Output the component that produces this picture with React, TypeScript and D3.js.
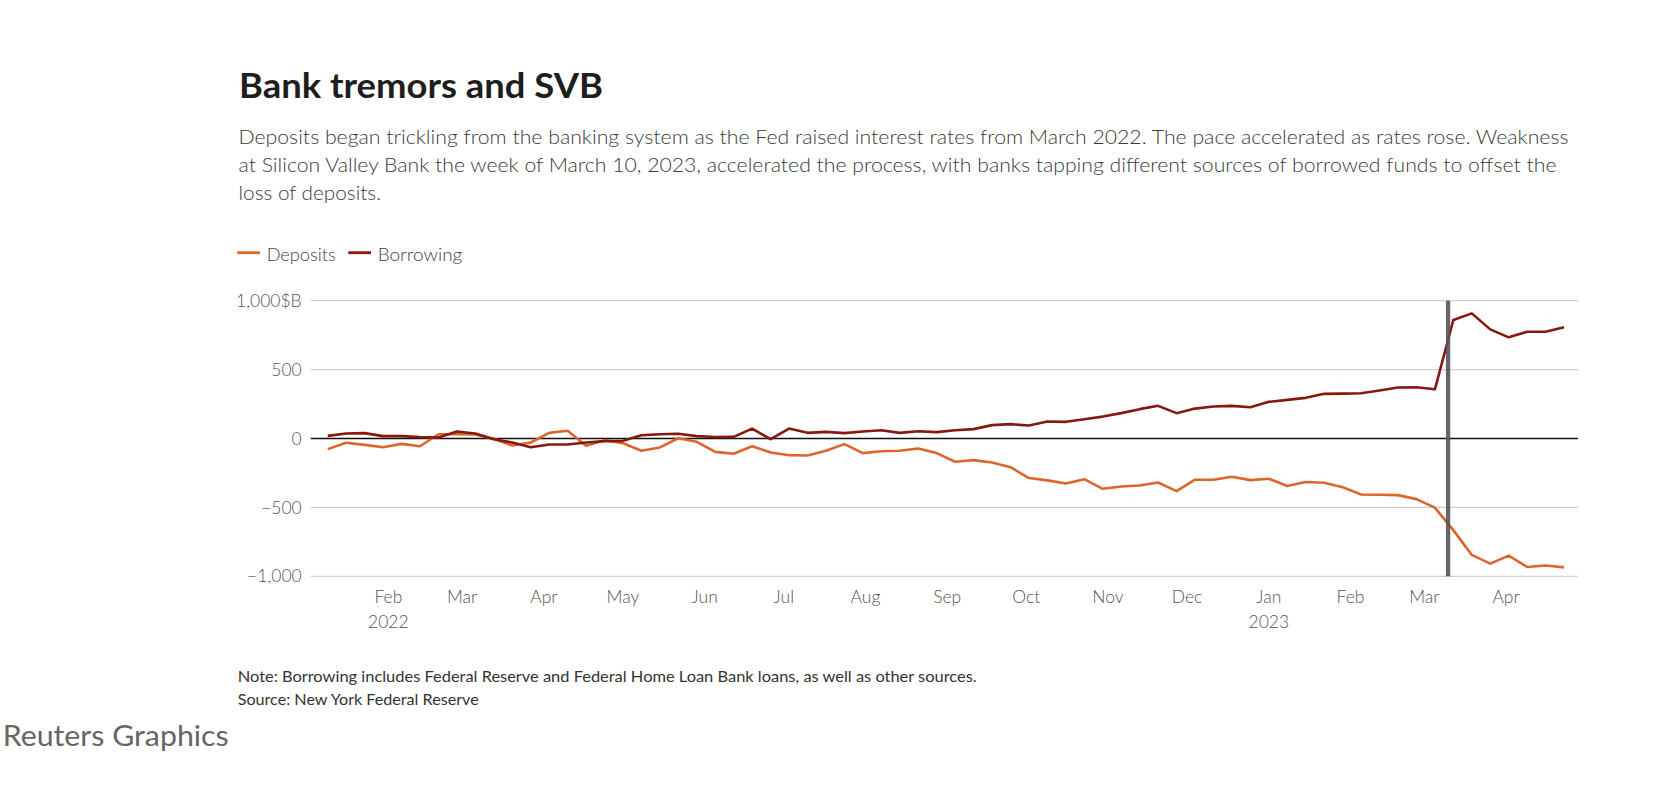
import React from "react";
import * as d3 from "d3";

const dates: string[] = [
  "2022-01-09","2022-01-16","2022-01-23","2022-01-30",
  "2022-02-06","2022-02-13","2022-02-20","2022-02-27",
  "2022-03-06","2022-03-13","2022-03-20","2022-03-27",
  "2022-04-03","2022-04-10","2022-04-17","2022-04-24",
  "2022-05-01","2022-05-08","2022-05-15","2022-05-22","2022-05-29",
  "2022-06-05","2022-06-12","2022-06-19","2022-06-26",
  "2022-07-03","2022-07-10","2022-07-17","2022-07-24","2022-07-31",
  "2022-08-07","2022-08-14","2022-08-21","2022-08-28",
  "2022-09-04","2022-09-11","2022-09-18","2022-09-25",
  "2022-10-02","2022-10-09","2022-10-16","2022-10-23","2022-10-30",
  "2022-11-06","2022-11-13","2022-11-20","2022-11-27",
  "2022-12-04","2022-12-11","2022-12-18","2022-12-25",
  "2023-01-01","2023-01-08","2023-01-15","2023-01-22","2023-01-29",
  "2023-02-05","2023-02-12","2023-02-19","2023-02-26",
  "2023-03-05","2023-03-12","2023-03-19","2023-03-26",
  "2023-04-02","2023-04-09","2023-04-16","2023-04-23",
];

const deposits: number[] = [
  -77, -31, -46, -63, -39, -56, 31, 31, 29, -2, -51, -29, 41, 56, -53, -12, -34, -89, -65, 2, -24, -97,
  -111, -56, -101, -121, -123, -89, -41, -106, -92, -89, -72, -106, -169, -157, -174, -208, -287, -304, -326, -295, -365, -348, -341, -319, -382, -299,
  -299, -278, -302, -292, -345, -316, -321, -353, -406, -408, -411, -440, -502, -665, -845, -908, -850, -932, -922, -935,
];

const borrowing: number[] = [
  19, 36, 39, 17, 17, 10, 7, 51, 36, -5, -29, -63, -43, -43, -29, -19, -17, 24, 31, 34, 17, 11,
  12, 72, -5, 72, 41, 48, 39, 51, 60, 41, 53, 46, 60, 68, 97, 104, 94, 123, 121, 140, 159, 184, 213, 237, 184, 217,
  232, 237, 227, 266, 280, 295, 324, 326, 328, 348, 370, 372, 357, 860, 908, 792, 734, 775, 775, 807,
];

const yTicks: number[] = [1000, 500, 0, -500, -1000];
const yTickLabels: string[] = ["1,000$B", "500", "0", "\u2212500", "\u22121,000"];

const monthTicks: string[] = [
  "2022-02-01","2022-03-01","2022-04-01","2022-05-01","2022-06-01","2022-07-01",
  "2022-08-01","2022-09-01","2022-10-01","2022-11-01","2022-12-01",
  "2023-01-01","2023-02-01","2023-03-01","2023-04-01",
];
const monthLabels: string[] = ["Feb","Mar","Apr","May","Jun","Jul","Aug","Sep","Oct","Nov","Dec","Jan","Feb","Mar","Apr"];
const yearLabels: string[] = ["2022","","","","","","","","","","","2023","","",""];

const svbDate = "2023-03-10";

const title = "Bank tremors and SVB";
const subtitleLines: string[] = [
  "Deposits began trickling from the banking system as the Fed raised interest rates from March 2022. The pace accelerated as rates rose. Weakness",
  "at Silicon Valley Bank the week of March 10, 2023, accelerated the process, with banks tapping different sources of borrowed funds to offset the",
  "loss of deposits.",
];
const seriesNames: string[] = ["Deposits", "Borrowing"];
const note = "Note: Borrowing includes Federal Reserve and Federal Home Loan Bank loans, as well as other sources.";
const source = "Source: New York Federal Reserve";
const credit = "Reuters Graphics";

const parse = (s: string) => new Date(s + "T00:00:00Z");

export default function App() {
  const W = 1674, H = 790;
  const left = 310.7, right = 1578, top = 300.7, bottom = 576.3;
  const font = "Lato, 'Source Sans Pro', 'Noto Sans', sans-serif";

  const x = d3.scaleUtc()
    .domain([new Date(Date.UTC(2022, 0, 2, 13)), new Date(Date.UTC(2023, 3, 28, 7))])
    .range([left, right]);
  const y = d3.scaleLinear().domain([-1000, 1000]).range([bottom, top]);

  const pts = dates.map(parse);
  const line = d3.line<number>()
    .x((_, i) => x(pts[i]))
    .y((v) => y(v));

  const colors = ["#dc652c", "#86180f"];
  const svbX = x(parse(svbDate));

  return (
    <div style={{ position: "fixed", left: 0, top: 0, width: W, height: H, background: "#fff" }}>
      <svg width={W} height={H} style={{ display: "block", fontFamily: font }}>
        <rect width={W} height={H} fill="#fff" />
        <text x={239} y={97.5} fontSize={34} fontWeight={700} fill="#1e1e1e" textLength={364} lengthAdjust="spacingAndGlyphs">{title}</text>
        {subtitleLines.map((t, i) => (
          <text key={i} x={238.5} y={144.3 + i * 28} fontSize={19.5} fontWeight={300} fill="#3a3a3a"
            textLength={[1330, 1318, 142.5][i]} lengthAdjust="spacingAndGlyphs">{t}</text>
        ))}
        {/* legend */}
        <g>
          <line x1={237.3} x2={260} y1={252.7} y2={252.7} stroke={colors[0]} strokeWidth={2.8} />
          <text x={266.7} y={260.5} fontSize={17.5} fontWeight={300} fill="#444" textLength={69} lengthAdjust="spacingAndGlyphs">{seriesNames[0]}</text>
          <line x1={348.3} x2={371} y1={252.7} y2={252.7} stroke={colors[1]} strokeWidth={2.8} />
          <text x={377.7} y={260.5} fontSize={17.5} fontWeight={300} fill="#444" textLength={84.6} lengthAdjust="spacingAndGlyphs">{seriesNames[1]}</text>
        </g>
        {/* grid */}
        {yTicks.map((t, i) => (
          <g key={t}>
            <line x1={left} x2={right} y1={y(t)} y2={y(t)} stroke={t === 0 ? "#111" : "#cfcfcf"} strokeWidth={t === 0 ? 1.3 : 1.2} />
            <text x={301.7} y={y(t)} dy="0.35em" textAnchor="end" fontSize={17.5} fontWeight={300} fill="#555">{yTickLabels[i]}</text>
          </g>
        ))}
        {/* x labels */}
        {monthTicks.map((m, i) => (
          <g key={m}>
            <text x={x(parse(m))} y={603.3} textAnchor="middle" fontSize={17.5} fontWeight={300} fill="#555">{monthLabels[i]}</text>
            {yearLabels[i] && (
              <text x={x(parse(m))} y={628.3} textAnchor="middle" fontSize={17.5} fontWeight={300} fill="#555">{yearLabels[i]}</text>
            )}
          </g>
        ))}
        {/* lines */}
        <path d={line(deposits) || ""} fill="none" stroke={colors[0]} strokeWidth={2.6} strokeLinejoin="round" />
        <path d={line(borrowing) || ""} fill="none" stroke={colors[1]} strokeWidth={2.6} strokeLinejoin="round" />
        {/* SVB marker */}
        <line x1={svbX} x2={svbX} y1={top} y2={bottom} stroke="#555" strokeOpacity={0.9} strokeWidth={4.3} />
        {/* notes */}
        <text x={237.7} y={681.7} fontSize={15} fill="#333" textLength={739} lengthAdjust="spacingAndGlyphs">{note}</text>
        <text x={237.7} y={705.3} fontSize={15} fill="#333" textLength={241} lengthAdjust="spacingAndGlyphs">{source}</text>
        <text x={2.7} y={746} fontSize={28} fill="#666" textLength={226} lengthAdjust="spacingAndGlyphs">{credit}</text>
      </svg>
    </div>
  );
}
